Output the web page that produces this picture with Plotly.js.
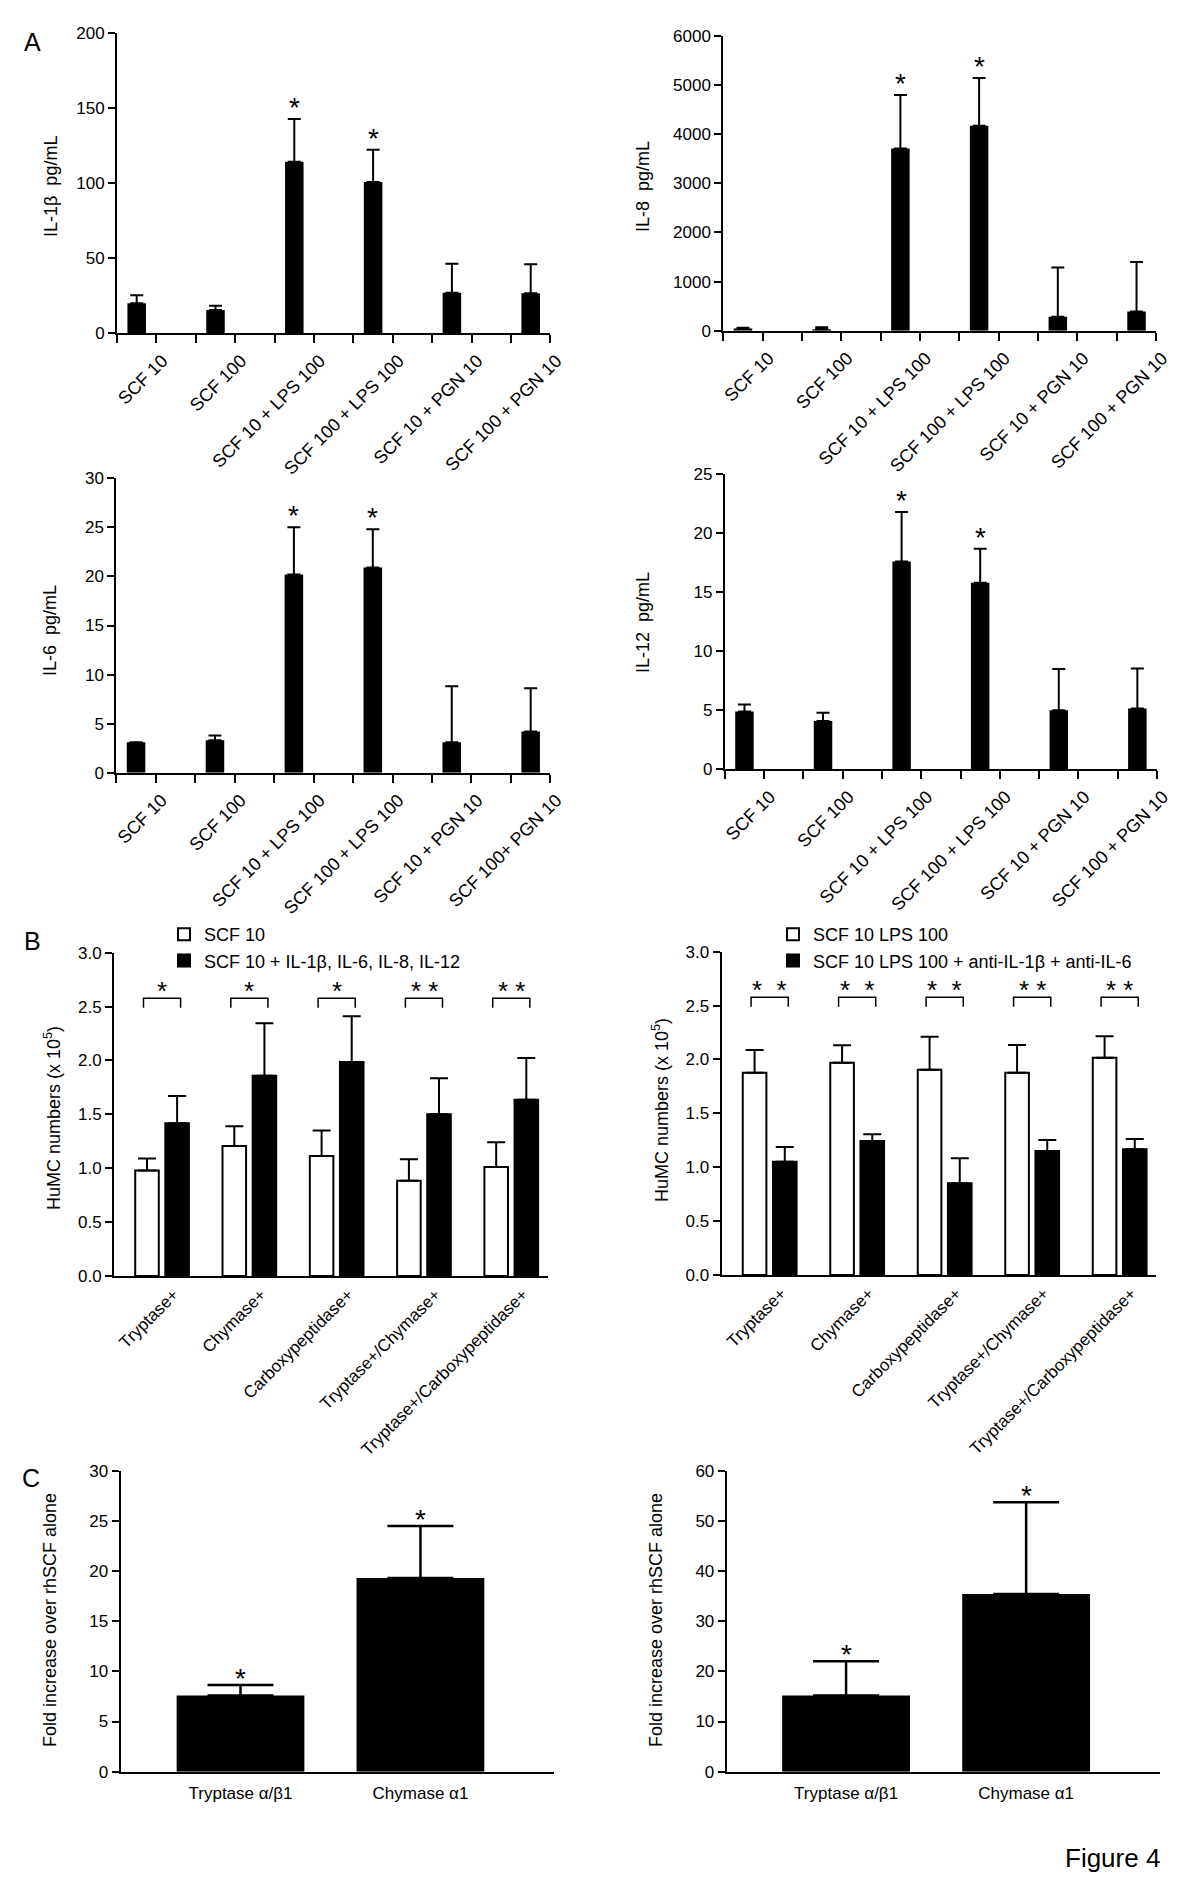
<!DOCTYPE html>
<html>
<head>
<meta charset="utf-8">
<script src="https://cdn.plot.ly/plotly-3.0.1.min.js"></script>
<style>
html, body { margin: 0; padding: 0; background: #ffffff; }
#fig { width: 1200px; height: 1897px; }
</style>
</head>
<body>
<div id="fig"></div>
<script>
// ===================== DATA =====================
// Panel A : cytokine release (pg/mL), mean and upper SEM
const catA = ["SCF 10", "SCF 100", "SCF 10 + LPS 100", "SCF 100 + LPS 100", "SCF 10 + PGN 10", "SCF 100 + PGN 10"];
const catA6 = ["SCF 10", "SCF 100", "SCF 10 + LPS 100", "SCF 100 + LPS 100", "SCF 10 + PGN 10", "SCF 100+ PGN 10"];
const il1b = [20, 15.6, 114.3, 100.9, 27.1, 26.7];
const il1bErr = [5.3, 2.8, 28.6, 21.5, 19.3, 19.3];
const il8 = [45, 30, 3710, 4175, 285, 390];
const il8Err = [15, 40, 1090, 970, 1000, 1010];
const il6 = [3.1, 3.3, 20.2, 20.9, 3.1, 4.2];
const il6Err = [0, 0.5, 4.8, 3.9, 5.7, 4.4];
const il12 = [4.9, 4.1, 17.6, 15.8, 5.0, 5.15];
const il12Err = [0.6, 0.7, 4.2, 2.9, 3.5, 3.4];
const sigA = ["", "", "*", "*", "", ""];

// Panel B : HuMC numbers (x 10^5)
const catB = ["Tryptase+", "Chymase+", "Carboxypeptidase+", "Tryptase+/Chymase+", "Tryptase+/Carboxypeptidase+"];
const bLeftNames = ["SCF 10", "SCF 10 + IL-1\u03b2, IL-6, IL-8, IL-12"];
const bLeftWhite = [0.98, 1.206, 1.113, 0.885, 1.011];
const bLeftWhiteErr = [0.11, 0.184, 0.236, 0.198, 0.229];
const bLeftBlack = [1.417, 1.859, 1.986, 1.5, 1.636];
const bLeftBlackErr = [0.253, 0.486, 0.424, 0.334, 0.387];
const sigBLeft = ["*", "*", "*", "* *", "* *"];
const bRightNames = ["SCF 10 LPS 100", "SCF 10 LPS 100 + anti-IL-1\u03b2 + anti-IL-6"];
const bRightWhite = [1.877, 1.97, 1.905, 1.877, 2.017];
const bRightWhiteErr = [0.211, 0.161, 0.306, 0.257, 0.198];
const bRightBlack = [1.052, 1.243, 0.851, 1.151, 1.166];
const bRightBlackErr = [0.136, 0.062, 0.232, 0.102, 0.096];
const sigBRight = ["*\u00a0\u00a0*", "*\u00a0\u00a0*", "*\u00a0\u00a0*", "* *", "* *"];

// Panel C : fold increase over rhSCF alone
const catC = ["Tryptase \u03b1/\u03b21", "Chymase \u03b11"];
const cLeft = [7.6, 19.3];
const cLeftErr = [1.05, 5.2];
const cRight = [15.2, 35.4];
const cRightErr = [6.8, 18.3];
const sigC = ["*", "*"];

// ===================== LAYOUT HELPERS =====================
const W = 1200, H = 1897;
const FONT = '"Liberation Sans", Arial, Helvetica, sans-serif';
function dom(x0, x1, y0, y1) { return { x: [x0 / W, x1 / W], y: [1 - y1 / H, 1 - y0 / H] }; }
const traces = [];
const annotations = [];
const shapes = [];
const layout = {
  width: W, height: H,
  margin: { l: 0, r: 0, t: 0, b: 0 },
  paper_bgcolor: '#ffffff', plot_bgcolor: 'rgba(0,0,0,0)',
  font: { family: FONT, color: '#000000', size: 17 },
  barmode: 'overlay',
  showlegend: true,
  hovermode: false
};
function axName(letter, n) { return letter + 'axis' + (n === 1 ? '' : n); }
function axRef(letter, n) { return letter + (n === 1 ? '' : n); }

function yAxis(n, d, range, dtick, fmt) {
  layout[axName('y', n)] = {
    domain: d.y, anchor: axRef('x', n), range: range, autorange: false,
    tickmode: 'linear', tick0: 0, dtick: dtick, tickformat: fmt || '',
    showline: true, linecolor: '#000', linewidth: 2,
    ticks: 'outside', ticklen: 7, tickwidth: 2, tickcolor: '#000',
    showgrid: false, zeroline: false, tickfont: { size: 17 }, fixedrange: true
  };
}
function yTitle(text, px, py) {
  annotations.push({ text: text, xref: 'paper', yref: 'paper', x: px / W, y: 1 - py / H,
    xanchor: 'center', yanchor: 'middle', textangle: -90, showarrow: false, font: { size: 18 } });
}

function panelA(n, d, cats, vals, errs, yr, dtick, title, tpos) {
  const xs = cats.map((_, i) => 2 * i);
  traces.push({
    type: 'bar', x: xs, y: vals, xaxis: axRef('x', n), yaxis: axRef('y', n), width: 0.47,
    marker: { color: '#000', line: { width: 0 } },
    error_y: { type: 'data', symmetric: false, array: errs, arrayminus: errs.map(() => 0),
      color: '#000', thickness: 2, width: 6.5 },
    showlegend: false, hoverinfo: 'skip'
  });
  layout[axName('x', n)] = {
    domain: d.x, anchor: axRef('y', n), range: [-0.5, 2 * cats.length - 1.5], autorange: false,
    tickmode: 'array', tickvals: xs.map(x => x + 0.5), ticktext: cats, tickangle: -45,
    ticklabelshift: 6,
    showline: true, linecolor: '#000', linewidth: 2,
    ticks: 'outside', ticklen: 8, tickwidth: 2, tickcolor: '#000',
    minor: { tickmode: 'linear', tick0: -0.5, dtick: 1, ticks: 'outside', ticklen: 8, tickwidth: 2, tickcolor: '#000', showgrid: false },
    showgrid: false, zeroline: false, tickfont: { size: 18 }, fixedrange: true
  };
  yAxis(n, d, yr, dtick);
  yTitle(title, tpos[0], tpos[1]);
  sigA.forEach((s, i) => {
    if (!s) return;
    annotations.push({ text: s, xref: axRef('x', n), yref: axRef('y', n), x: xs[i], y: vals[i] + errs[i],
      xanchor: 'center', yanchor: 'bottom', yshift: -6, showarrow: false, font: { size: 28 } });
  });
}

function panelB(n, d, names, white, whiteErr, black, blackErr, sig, legendId, legPos, tpos) {
  const xs = catB.map((_, i) => i);
  traces.push({
    type: 'bar', name: names[0], x: xs, y: white, xaxis: axRef('x', n), yaxis: axRef('y', n),
    width: 0.27, offset: -0.30, legend: legendId,
    marker: { color: '#ffffff', line: { color: '#000', width: 2 } },
    error_y: { type: 'data', symmetric: false, array: whiteErr, arrayminus: whiteErr.map(() => 0),
      color: '#000', thickness: 2, width: 9 },
    hoverinfo: 'skip'
  });
  traces.push({
    type: 'bar', name: names[1], x: xs, y: black, xaxis: axRef('x', n), yaxis: axRef('y', n),
    width: 0.27, offset: 0.045, legend: legendId,
    marker: { color: '#000', line: { color: '#000', width: 2 } },
    error_y: { type: 'data', symmetric: false, array: blackErr, arrayminus: blackErr.map(() => 0),
      color: '#000', thickness: 2, width: 9 },
    hoverinfo: 'skip'
  });
  layout[axName('x', n)] = {
    domain: d.x, anchor: axRef('y', n), range: [-0.543, catB.length - 0.575], autorange: false,
    tickmode: 'array', tickvals: xs.map(i => i + 0.14), ticktext: catB, tickangle: -45,
    showline: true, linecolor: '#000', linewidth: 2, ticks: '',
    showgrid: false, zeroline: false, tickfont: { size: 17 }, fixedrange: true
  };
  yAxis(n, d, [0, 3], 0.5, '.1f');
  yTitle('HuMC numbers (x 10<sup>5</sup>)', tpos[0], tpos[1]);
  sig.forEach((s, i) => {
    shapes.push({ type: 'path', xref: axRef('x', n), yref: axRef('y', n),
      path: 'M' + (i - 0.205) + ',2.49 L' + (i - 0.205) + ',2.577 L' + (i + 0.22) + ',2.577 L' + (i + 0.22) + ',2.49',
      line: { color: '#000', width: 1.5 } });
    annotations.push({ text: s, xref: axRef('x', n), yref: axRef('y', n), x: i + 0.008, y: 2.6,
      xanchor: 'center', yanchor: 'bottom', yshift: -12, showarrow: false, font: { size: 26 } });
  });
  layout[legendId] = {
    x: legPos[0] / W, xanchor: 'left', y: 1 - legPos[1] / H, yanchor: 'top',
    font: { size: 18 }, bgcolor: 'rgba(0,0,0,0)', borderwidth: 0, traceorder: 'normal',
    itemclick: false, itemdoubleclick: false
  };
}

function panelC(n, d, vals, errs, yr, dtick, range, tpos) {
  const xs = catC.map((_, i) => i);
  traces.push({
    type: 'bar', x: xs, y: vals, xaxis: axRef('x', n), yaxis: axRef('y', n), width: 0.71,
    marker: { color: '#000', line: { width: 0 } },
    error_y: { type: 'data', symmetric: false, array: errs, arrayminus: errs.map(() => 0),
      color: '#000', thickness: 2.5, width: 33 },
    showlegend: false, hoverinfo: 'skip'
  });
  layout[axName('x', n)] = {
    domain: d.x, anchor: axRef('y', n), range: range, autorange: false,
    tickmode: 'array', tickvals: xs, ticktext: catC, tickangle: 0,
    showline: true, linecolor: '#000', linewidth: 2,
    ticks: 'outside', ticklen: 5, tickcolor: 'rgba(0,0,0,0)',
    showgrid: false, zeroline: false, tickfont: { size: 17 }, fixedrange: true
  };
  yAxis(n, d, yr, dtick);
  yTitle('Fold increase over rhSCF alone', tpos[0], tpos[1]);
  sigC.forEach((s, i) => {
    annotations.push({ text: s, xref: axRef('x', n), yref: axRef('y', n), x: xs[i], y: vals[i] + errs[i],
      xanchor: 'center', yanchor: 'bottom', yshift: -11, showarrow: false, font: { size: 28 } });
  });
}

// ===================== BUILD =====================
panelA(1, dom(117, 550.4, 33.3, 333.3), catA, il1b, il1bErr, [0, 200], 50, 'IL-1\u03b2\u00a0\u00a0pg/mL', [51, 187]);
panelA(2, dom(723.3, 1156.2, 36, 330.7), catA, il8, il8Err, [0, 6000], 1000, 'IL-8\u00a0\u00a0pg/mL', [643, 187]);
panelA(3, dom(116.3, 550.4, 478.3, 772.7), catA6, il6, il6Err, [0, 30], 5, 'IL-6\u00a0\u00a0pg/mL', [50, 631]);
panelA(4, dom(724.8, 1157, 474.3, 769.3), catA, il12, il12Err, [0, 25], 5, 'IL-12\u00a0\u00a0pg/mL', [643, 623]);
panelB(5, dom(114, 547.7, 952.7, 1276), bLeftNames, bLeftWhite, bLeftWhiteErr, bLeftBlack, bLeftBlackErr, sigBLeft, 'legend', [164, 916], [52, 1118]);
panelB(6, dom(721.5, 1156.2, 951.7, 1275), bRightNames, bRightWhite, bRightWhiteErr, bRightBlack, bRightBlackErr, sigBRight, 'legend2', [773, 916], [660, 1110]);
panelC(7, dom(120.5, 554.3, 1470.7, 1771.7), cLeft, cLeftErr, [0, 30], 5, [-0.667, 1.744], [50, 1620]);
panelC(8, dom(726.7, 1160.1, 1470.7, 1771.7), cRight, cRightErr, [0, 60], 10, [-0.663, 1.744], [656, 1620]);

// panel letters and figure label
[['A', 32, 42], ['B', 32, 941], ['C', 31, 1478]].forEach(p => {
  annotations.push({ text: p[0], xref: 'paper', yref: 'paper', x: p[1] / W, y: 1 - p[2] / H,
    xanchor: 'center', yanchor: 'middle', showarrow: false, font: { size: 25 } });
});
annotations.push({ text: 'Figure 4', xref: 'paper', yref: 'paper', x: 1162 / W, y: 1 - 1858 / H,
  xanchor: 'right', yanchor: 'middle', showarrow: false, font: { size: 26 } });

layout.annotations = annotations;
layout.shapes = shapes;

Plotly.newPlot('fig', traces, layout, { staticPlot: true, displayModeBar: false });
</script>
</body>
</html>
